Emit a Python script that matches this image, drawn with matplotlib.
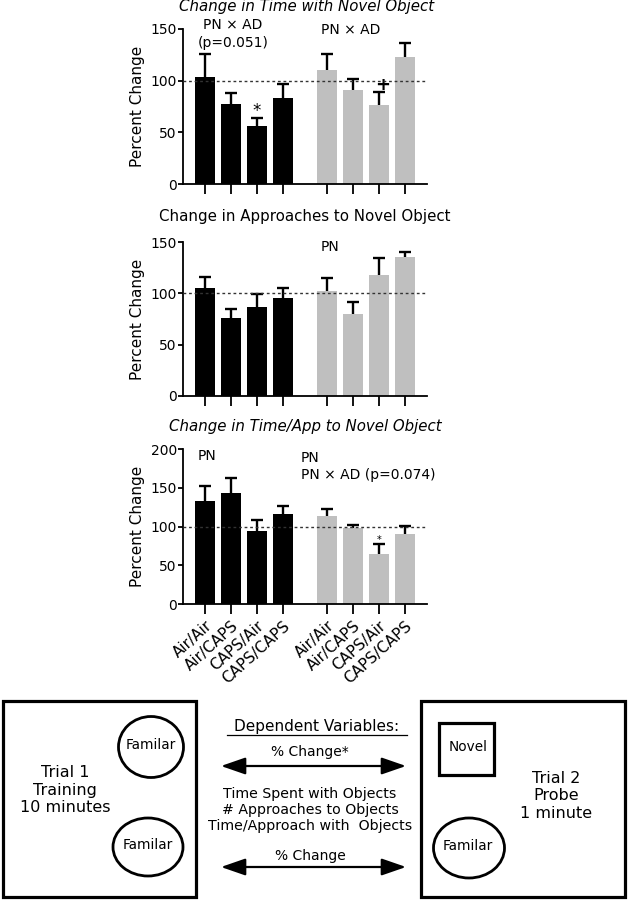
import matplotlib
matplotlib.use('Agg')
import matplotlib.pyplot as plt
from matplotlib.patches import Rectangle, Ellipse, FancyArrowPatch
import numpy as np

plt.rcParams['font.family'] = ['DejaVu Sans']

# groups: black = first exposure set, grey = second
categories = ['Air/Air', 'Air/CAPS', 'CAPS/Air', 'CAPS/CAPS',
              'Air/Air', 'Air/CAPS', 'CAPS/Air', 'CAPS/CAPS']
positions = [0, 1, 2, 3, 4.7, 5.7, 6.7, 7.7]
bar_colors = ['black'] * 4 + ['#bfbfbf'] * 4

# Change in Time with Novel Object
time_mean = [104, 77, 56, 83, 110, 91, 76, 123]
time_err = [22, 11, 8, 14, 16, 10.5, 13, 13]

# Change in Approaches to Novel Object
app_mean = [105.5, 76, 86.5, 95, 102, 80, 118, 135.5]
app_err = [10, 9, 12.5, 10, 13, 12, 16, 4.5]

# Change in Time/App to Novel Object
tpa_mean = [133, 143, 94.5, 116, 114, 98, 65, 90.5]
tpa_err = [19, 20, 14, 11, 9, 4, 12, 10]

W, H = 628, 900
fig = plt.figure(figsize=(6.28, 9), dpi=100)


def px_axes(left, top, right, bottom):
    # axes placed by pixel edges
    return fig.add_axes([left / W, 1 - bottom / H, (right - left) / W, (bottom - top) / H])


def bar_panel(ax, means, errs, ymax, yticks, show_labels):
    means = np.array(means)
    tops = means + np.array(errs)
    ax.bar(positions, means, width=0.74, color=bar_colors, zorder=2)
    # upper error only: stem + top cap
    ax.vlines(positions, means, tops, color='black', lw=1.7, zorder=3)
    ax.plot(positions, tops, ls='none', marker='_', ms=9, mew=1.7, color='black', zorder=3)
    ax.axhline(100, color='#333333', linestyle=(0, (2, 2)), linewidth=1.0, zorder=4)
    ax.set_xlim(-0.85, 8.55)
    ax.set_ylim(0, ymax)
    ax.set_yticks(yticks)
    ax.set_xticks(positions)
    if show_labels:
        ax.set_xticklabels(categories, rotation=42, ha='right', rotation_mode='anchor', fontsize=11)
    else:
        ax.set_xticklabels([])
    ax.spines['top'].set_visible(False)
    ax.spines['right'].set_visible(False)
    ax.spines['left'].set_linewidth(1.3)
    ax.spines['bottom'].set_linewidth(1.3)
    ax.tick_params(axis='y', length=3.5, width=1.3, labelsize=10, pad=1)
    ax.tick_params(axis='x', length=7, width=1.3, pad=3)
    ax.set_ylabel('Percent Change', fontsize=11)
    ax.yaxis.set_label_coords(-0.155, 0.5)


ax1 = px_axes(183, 29, 427, 184)
bar_panel(ax1, time_mean, time_err, 150, [0, 50, 100, 150], False)
ax1.text(1.08, 154, 'PN × AD', ha='center', va='center', fontsize=10, clip_on=False)
ax1.text(1.08, 136.5, '(p=0.051)', ha='center', va='center', fontsize=10)
ax1.text(5.6, 149, 'PN × AD', ha='center', va='center', fontsize=10, clip_on=False)
ax1.text(2, 71, '*', ha='center', va='center', fontsize=12)
ax1.text(6.85, 96, '+', ha='center', va='center', fontsize=13, fontweight='bold')

ax2 = px_axes(183, 242, 427, 396)
bar_panel(ax2, app_mean, app_err, 150, [0, 50, 100, 150], False)
ax2.text(4.8, 145, 'PN', ha='center', va='center', fontsize=10)

ax3 = px_axes(183, 449, 427, 604)
bar_panel(ax3, tpa_mean, tpa_err, 200, [0, 50, 100, 150, 200], True)
ax3.text(-0.3, 191, 'PN', ha='left', va='center', fontsize=10)
ax3.text(3.68, 188.5, 'PN', ha='left', va='center', fontsize=10)
ax3.text(3.68, 166.5, 'PN × AD (p=0.074)', ha='left', va='center', fontsize=10)
ax3.text(6.7, 83, '*', ha='center', va='center', fontsize=7)

title_kw = dict(ha='center', va='center', fontsize=10.8)
fig.text(307 / W, 1 - 7 / H, 'Change in Time with Novel Object', style='italic', **title_kw)
fig.text(305 / W, 1 - 217 / H, 'Change in Approaches to Novel Object', **title_kw)
fig.text(305 / W, 1 - 426 / H, 'Change in Time/App to Novel Object', style='italic', **title_kw)

# schematic of the two trials
ad = fig.add_axes([0, 0, 1, 1], zorder=-1)
ad.set_xlim(0, W)
ad.set_ylim(H, 0)
ad.axis('off')

ad.add_patch(Rectangle((3, 701), 193, 196, fill=False, lw=2.3, ec='black'))
ad.add_patch(Rectangle((421, 701), 204, 196, fill=False, lw=2.3, ec='black'))
ad.add_patch(Ellipse((151, 747), 65, 61, fill=False, lw=2.0, ec='black'))
ad.add_patch(Ellipse((148, 847), 70, 58, fill=False, lw=2.0, ec='black'))
ad.add_patch(Ellipse((469, 848), 71, 60, fill=False, lw=2.0, ec='black'))
ad.add_patch(Rectangle((439, 723), 55, 52, fill=False, lw=2.3, ec='black'))

small = dict(ha='center', va='center', fontsize=9.8)
ad.text(151, 745, 'Familar', **small)
ad.text(148, 845, 'Familar', **small)
ad.text(468, 846, 'Familar', **small)
ad.text(468, 747, 'Novel', **small)

big = dict(ha='center', va='center', fontsize=11.5, linespacing=1.2)
ad.text(65, 790, 'Trial 1\nTraining\n10 minutes', **big)
ad.text(556, 796, 'Trial 2\nProbe\n1 minute', **big)

mid = dict(ha='center', va='center', fontsize=10)
ad.text(317, 726, 'Dependent Variables:', ha='center', va='center', fontsize=11)
ad.plot([227, 407], [735, 735], color='black', lw=0.9)
ad.text(310, 752, '% Change*', **mid)
ad.text(310, 810, 'Time Spent with Objects\n# Approaches to Objects\nTime/Approach with  Objects',
        ha='center', va='center', fontsize=10.2, linespacing=1.15)
ad.text(310, 856, '% Change', **mid)
for yy in [766, 867]:
    ad.add_patch(FancyArrowPatch((221, yy), (406, yy), arrowstyle='<|-|>,head_length=15,head_width=5.2',
                                 lw=1.6, color='black', mutation_scale=1, shrinkA=0, shrinkB=0))

fig.savefig('out.png', dpi=100)
